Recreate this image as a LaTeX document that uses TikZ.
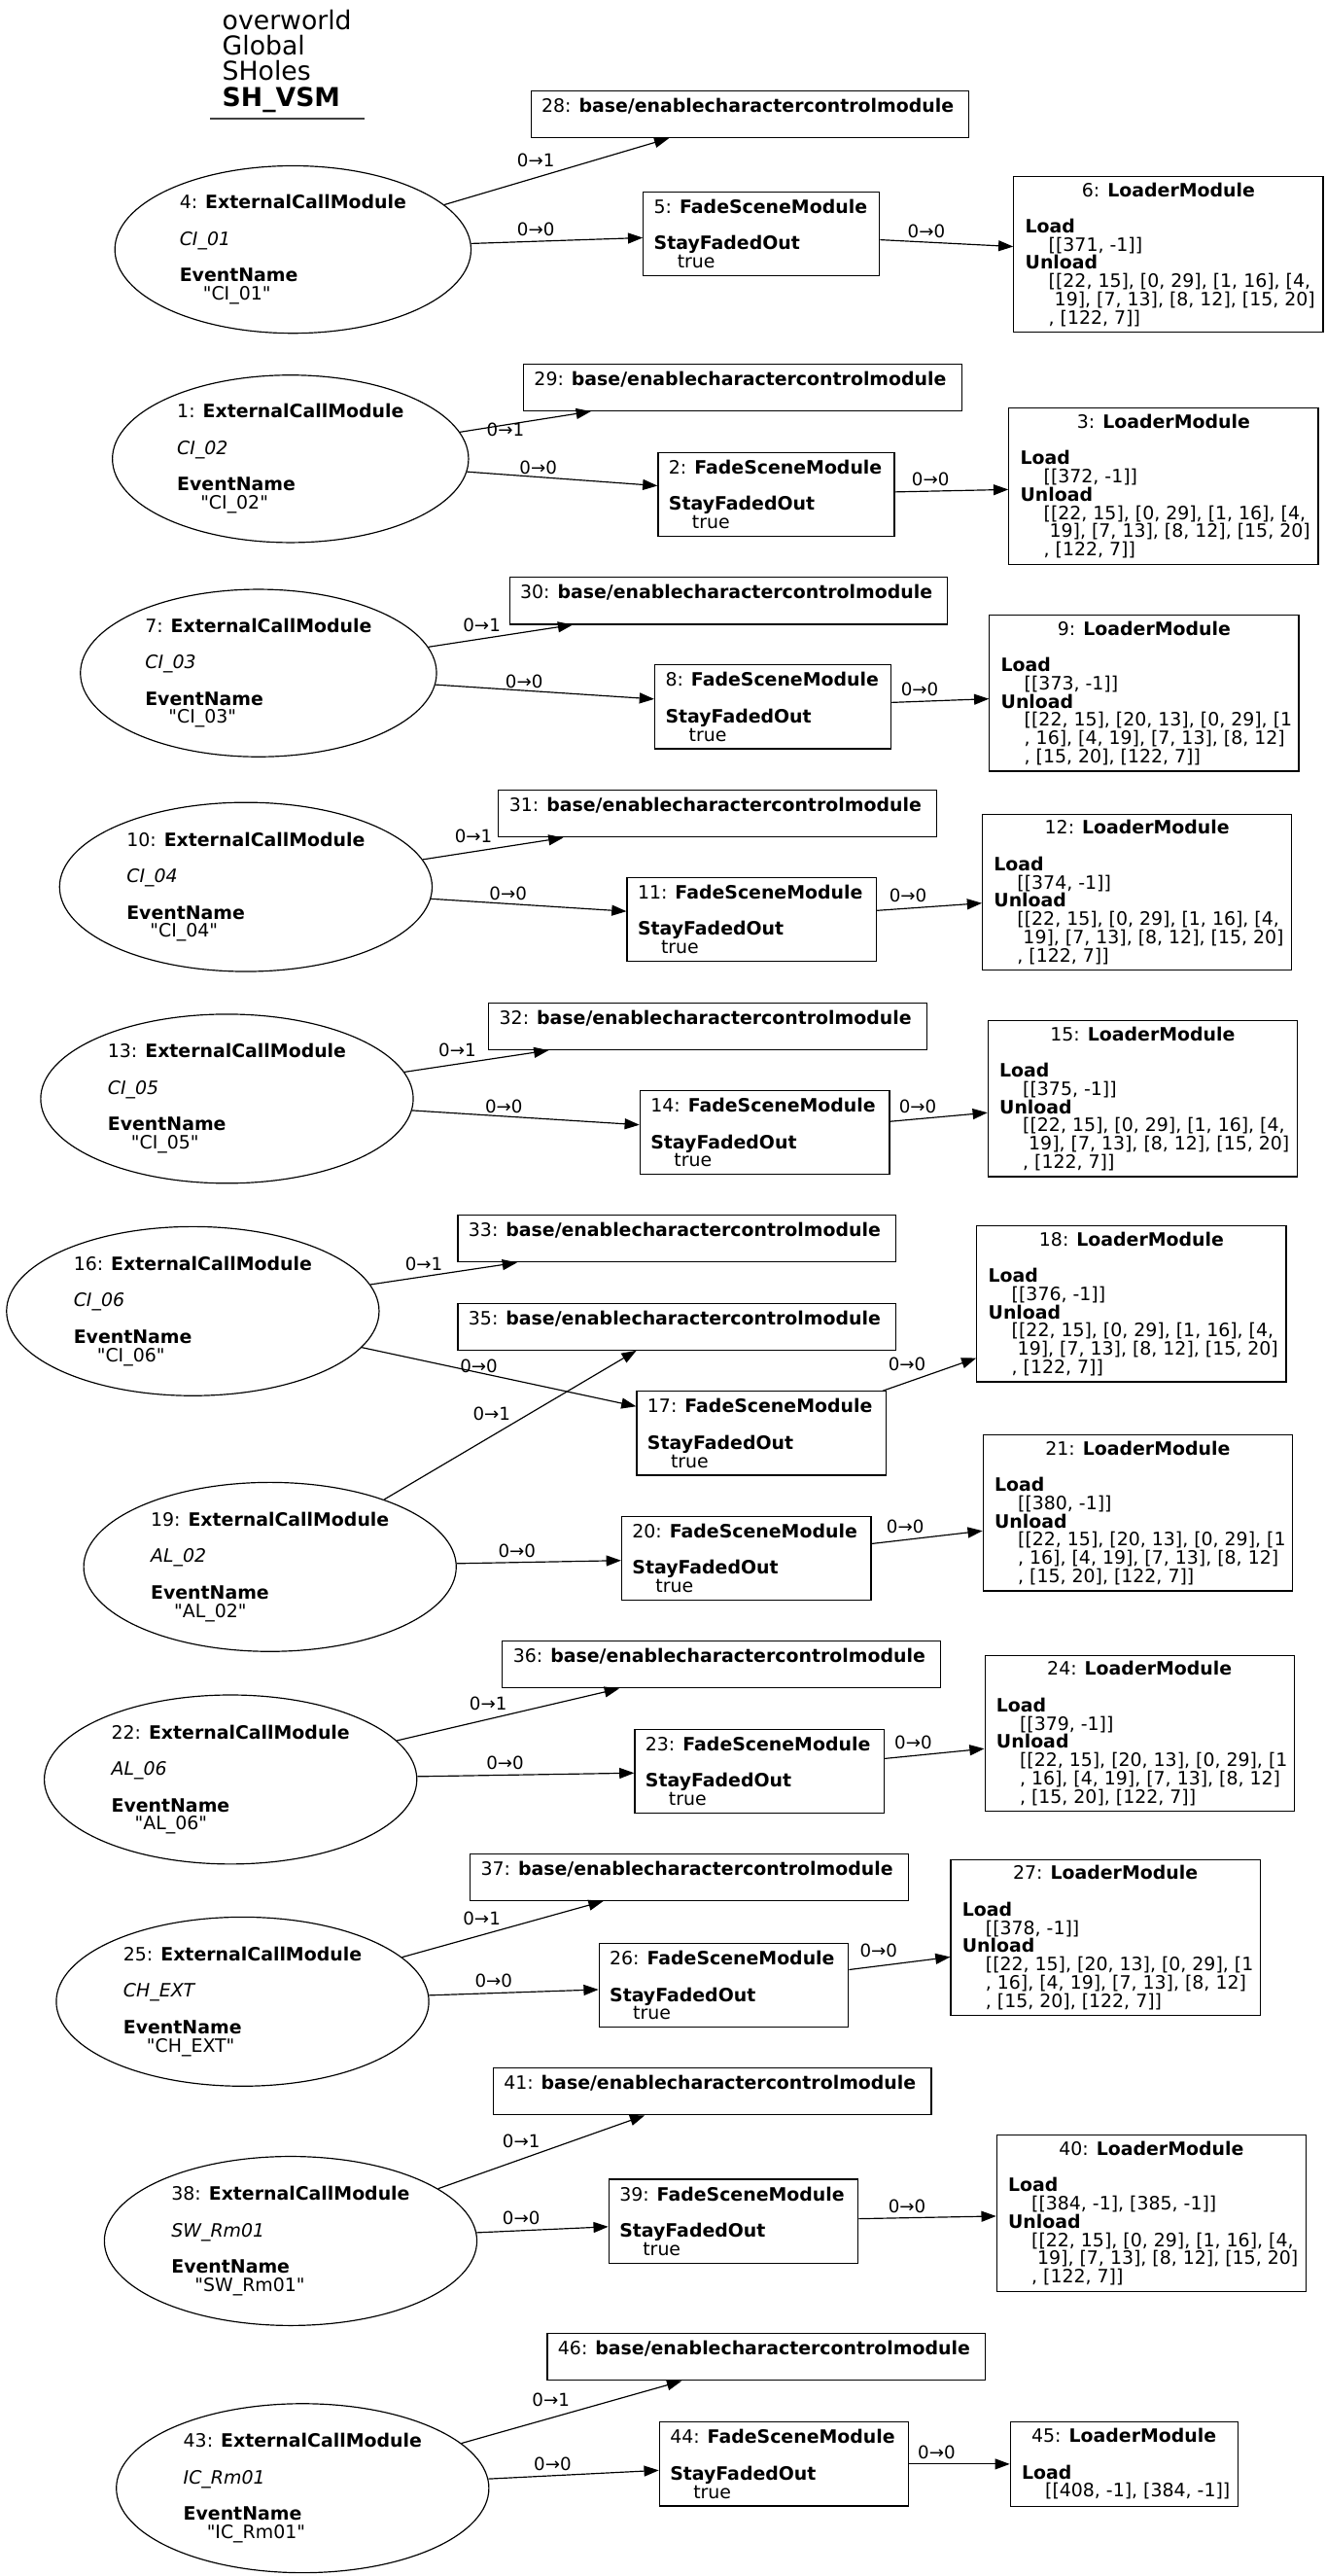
\documentclass[tikz,border=0pt]{standalone}
\usepackage{fontspec}
\setmainfont{DejaVu Sans}
\usetikzlibrary{arrows.meta,shapes.geometric}
\newcommand\ind{\hspace*{1.272em}}
\newcommand\indx{\hspace*{1.59em}}
\newcommand\nodefont{\fontsize{11.2}{11.1}\selectfont}
\newcommand\lblfont{\fontsize{10.8}{11}\selectfont}
\newcommand\titlefont{\fontsize{15.8}{15.6}\selectfont}
\newcommand\ecmtxt[3]{#1: \textbf{ExternalCallModule}\\\mbox{}\\\textit{#2}\\\mbox{}\\\textbf{EventName}\\\ind\textquotedbl #3\textquotedbl}
\newcommand\basetxt[1]{\begin{minipage}{254pt}\mbox{#1: \textbf{base/enablecharactercontrolmodule}}\\\mbox{}\end{minipage}}
\newcommand\fadetxt[2]{\begin{minipage}{#1}\mbox{#2: \textbf{FadeSceneModule}}\\\mbox{}\\\mbox{\textbf{StayFadedOut}}\\\mbox{\ind true}\end{minipage}}
\newcommand\listA{\mbox{\ind [[22, 15], [0, 29], [1, 16], [4,}\\\mbox{\indx 19], [7, 13], [8, 12], [15, 20]}\\\mbox{\ind , [122, 7]]}}
\newcommand\listB{\mbox{\ind [[22, 15], [20, 13], [0, 29], [1}\\\mbox{\ind , 16], [4, 19], [7, 13], [8, 12]}\\\mbox{\ind , [15, 20], [122, 7]]}}
\newcommand\loadtxt[3]{\begin{minipage}{174.5pt}{\centering #1: \textbf{LoaderModule}\par}\mbox{}\\\mbox{\textbf{Load}}\\\mbox{\ind #2}\\\mbox{\textbf{Unload}}\\#3\end{minipage}}
\tikzset{
  ecm/.style={draw, ellipse, inner sep=0pt, minimum width=227pt, minimum height=103pt, align=left, font=\nodefont, line width=0.7pt},
  ecms/.style={ecm, minimum width=217pt, minimum height=102pt},
  basebox/.style={draw, rectangle, inner sep=0pt, minimum width=267pt, minimum height=28.5pt, font=\nodefont, line width=0.7pt},
  fadebox/.style={draw, rectangle, inner sep=0pt, minimum width=152pt, minimum height=51pt, font=\nodefont, line width=0.7pt},
  fadeboxs/.style={fadebox, minimum width=144pt},
  loadbox/.style={draw, rectangle, inner sep=0pt, minimum width=188.5pt, minimum height=95pt, font=\nodefont, line width=0.7pt},
  edge/.style={draw, -{Triangle[length=9pt,width=6.5pt]}, line width=0.7pt},
  lbl/.style={font=\lblfont, inner sep=0pt},
  ttl/.style={font=\titlefont, inner sep=0pt, anchor=base west},
}
\begin{document}
\begin{tikzpicture}[x=1pt,y=-1pt]
\useasboundingbox (0,0) rectangle (808,1569.2);
% title
\node[ttl] (t1) at (135.3,17.8) {overworld};
\node[ttl] (t2) at (135.3,33.4) {Global};
\node[ttl] (t3) at (135.3,49.0) {SHoles};
\node[ttl] (t4) at (135.3,64.6) {\textbf{SH\_VSM}};
\coordinate (u1) at (128,72.1);
\coordinate (u2) at (222,72.1);
\draw[line width=1.2pt, black!75] (u1) -- (u2);
% row 1
\node[ecms] (n4) at (178.5,152) {\ecmtxt{4}{CI\_01}{CI\_01}};
\node[basebox] (n28) at (457,69.6) {\basetxt{28}};
\node[fadeboxs] (n5) at (464,142.4) {\fadetxt{131pt}{5}};
\node[loadbox] (n6) at (712,155) {\loadtxt{6}{[[371, -1]]}{\listA}};
% row 2
\node[ecms] (n1) at (177,279.5) {\ecmtxt{1}{CI\_02}{CI\_02}};
\node[basebox] (n29) at (452.5,236) {\basetxt{29}};
\node[fadeboxs] (n2) at (473,301.2) {\fadetxt{131pt}{2}};
\node[loadbox] (n3) at (709,296.2) {\loadtxt{3}{[[372, -1]]}{\listA}};
% row 3
\node[ecms] (n7) at (157.5,410) {\ecmtxt{7}{CI\_03}{CI\_03}};
\node[basebox] (n30) at (444,366) {\basetxt{30}};
\node[fadeboxs] (n8) at (471,430.6) {\fadetxt{131pt}{8}};
\node[loadbox] (n9) at (697.2,422.2) {\loadtxt{9}{[[373, -1]]}{\listB}};
% row 4
\node[ecm] (n10) at (149.8,540.3) {\ecmtxt{10}{CI\_04}{CI\_04}};
\node[basebox] (n31) at (437.3,495.7) {\basetxt{31}};
\node[fadebox] (n11) at (458.1,560) {\fadetxt{139pt}{11}};
\node[loadbox] (n12) at (692.9,543.5) {\loadtxt{12}{[[374, -1]]}{\listA}};
% row 5
\node[ecm] (n13) at (138.3,669.3) {\ecmtxt{13}{CI\_05}{CI\_05}};
\node[basebox] (n32) at (431.3,625.2) {\basetxt{32}};
\node[fadebox] (n14) at (466,690) {\fadetxt{139pt}{14}};
\node[loadbox] (n15) at (696.3,669.3) {\loadtxt{15}{[[375, -1]]}{\listA}};
% row 6
\node[ecm] (n16) at (117.5,798.7) {\ecmtxt{16}{CI\_06}{CI\_06}};
\node[basebox] (n33) at (412.5,754.5) {\basetxt{33}};
\node[basebox] (n35) at (412.5,808.1) {\basetxt{35}};
\node[fadebox] (n17) at (464,873.1) {\fadetxt{139pt}{17}};
\node[loadbox] (n18) at (689.5,794.3) {\loadtxt{18}{[[376, -1]]}{\listA}};
% row 7
\node[ecm] (n19) at (164.5,954.5) {\ecmtxt{19}{AL\_02}{AL\_02}};
\node[fadebox] (n20) at (454.8,949.2) {\fadetxt{139pt}{20}};
\node[loadbox] (n21) at (693.3,921.6) {\loadtxt{21}{[[380, -1]]}{\listB}};
% row 8
\node[basebox] (n36) at (439.7,1014) {\basetxt{36}};
\node[ecm] (n22) at (140.5,1084) {\ecmtxt{22}{AL\_06}{AL\_06}};
\node[fadebox] (n23) at (462.8,1078.8) {\fadetxt{139pt}{23}};
\node[loadbox] (n24) at (694.4,1055.9) {\loadtxt{24}{[[379, -1]]}{\listB}};
% row 9
\node[basebox] (n37) at (420,1143.5) {\basetxt{37}};
\node[ecm] (n25) at (147.8,1219.3) {\ecmtxt{25}{CH\_EXT}{CH\_EXT}};
\node[fadebox] (n26) at (441,1209.4) {\fadetxt{139pt}{26}};
\node[loadbox] (n27) at (673.6,1180.3) {\loadtxt{27}{[[378, -1]]}{\listB}};
% row 10
\node[basebox] (n41) at (434,1274) {\basetxt{41}};
\node[ecm] (n38) at (177.1,1365.1) {\ecmtxt{38}{SW\_Rm01}{SW\_Rm01}};
\node[fadebox] (n39) at (447,1353) {\fadetxt{139pt}{39}};
\node[loadbox] (n40) at (701.6,1348.2) {\loadtxt{40}{[[384, -1], [385, -1]]}{\listA}};
% row 11
\node[basebox] (n46) at (467,1435.8) {\basetxt{46}};
\node[ecm] (n43) at (184.4,1515.7) {\ecmtxt{43}{IC\_Rm01}{IC\_Rm01}};
\node[fadebox] (n44) at (477.8,1501) {\fadetxt{139pt}{44}};
\node[draw, rectangle, inner sep=0pt, minimum width=138.5pt, minimum height=51.2pt, font=\nodefont, line width=0.7pt] (n45) at (684.9,1501) {\begin{minipage}{124.5pt}{\centering 45: \textbf{LoaderModule}\par}\mbox{}\\\mbox{\textbf{Load}}\\\mbox{\ind [[408, -1], [384, -1]]}\end{minipage}};
% edges
\draw[edge] (n4) -- (n28);
\draw[edge] (n4) -- (n5);
\draw[edge] (n5) -- (n6);
\draw[edge] (n1) -- (n29);
\draw[edge] (n1) -- (n2);
\draw[edge] (n2) -- (n3);
\draw[edge] (n7) -- (n30);
\draw[edge] (n7) -- (n8);
\draw[edge] (n8) -- (n9);
\draw[edge] (n10) -- (n31);
\draw[edge] (n10) -- (n11);
\draw[edge] (n11) -- (n12);
\draw[edge] (n13) -- (n32);
\draw[edge] (n13) -- (n14);
\draw[edge] (n14) -- (n15);
\draw[edge] (n16) -- (n33);
\draw[edge] (n16) -- (n17);
\draw[edge] (n17) -- (n18);
\draw[edge] (n19) -- (n35);
\draw[edge] (n19) -- (n20);
\draw[edge] (n20) -- (n21);
\draw[edge] (n22) -- (n36);
\draw[edge] (n22) -- (n23);
\draw[edge] (n23) -- (n24);
\draw[edge] (n25) -- (n37);
\draw[edge] (n25) -- (n26);
\draw[edge] (n26) -- (n27);
\draw[edge] (n38) -- (n41);
\draw[edge] (n38) -- (n39);
\draw[edge] (n39) -- (n40);
\draw[edge] (n43) -- (n46);
\draw[edge] (n43) -- (n44);
\draw[edge] (n44) -- (n45);
% edge labels
\node[lbl] (l4a) at (326.5,97.8) {0→1};
\node[lbl] (l4b) at (326.5,139.8) {0→0};
\node[lbl] (l5) at (564.5,141) {0→0};
\node[lbl] (l1a) at (308,261.6) {0→1};
\node[lbl] (l1b) at (328,284.7) {0→0};
\node[lbl] (l2) at (567,292) {0→0};
\node[lbl] (l7a) at (293.6,381) {0→1};
\node[lbl] (l7b) at (319.4,415) {0→0};
\node[lbl] (l8) at (560.4,420) {0→0};
\node[lbl] (l10a) at (288.5,509.6) {0→1};
\node[lbl] (l10b) at (309.6,544.4) {0→0};
\node[lbl] (l11) at (553.3,545.5) {0→0};
\node[lbl] (l13a) at (278.7,639.6) {0→1};
\node[lbl] (l13b) at (307,674) {0→0};
\node[lbl] (l14) at (559.2,674) {0→0};
\node[lbl] (l16a) at (258.3,770) {0→1};
\node[lbl] (l16b) at (291.8,832.3) {0→0};
\node[lbl] (l17) at (552.7,831.3) {0→0};
\node[lbl] (l19a) at (299.6,861) {0→1};
\node[lbl] (l19b) at (315,945) {0→0};
\node[lbl] (l20) at (551.6,930) {0→0};
\node[lbl] (l22a) at (297.5,1037.5) {0→1};
\node[lbl] (l22b) at (307.8,1074.1) {0→0};
\node[lbl] (l23) at (556.5,1061.5) {0→0};
\node[lbl] (l25a) at (293.6,1168.4) {0→1};
\node[lbl] (l25b) at (300.8,1206.4) {0→0};
\node[lbl] (l26) at (535.4,1188.4) {0→0};
\node[lbl] (l38a) at (317.6,1304.3) {0→1};
\node[lbl] (l38b) at (317.6,1351) {0→0};
\node[lbl] (l39) at (552.7,1344) {0→0};
\node[lbl] (l43a) at (335.7,1462) {0→1};
\node[lbl] (l43b) at (336.7,1500.8) {0→0};
\node[lbl] (l44) at (570.7,1493.9) {0→0};
\end{tikzpicture}
\end{document}
